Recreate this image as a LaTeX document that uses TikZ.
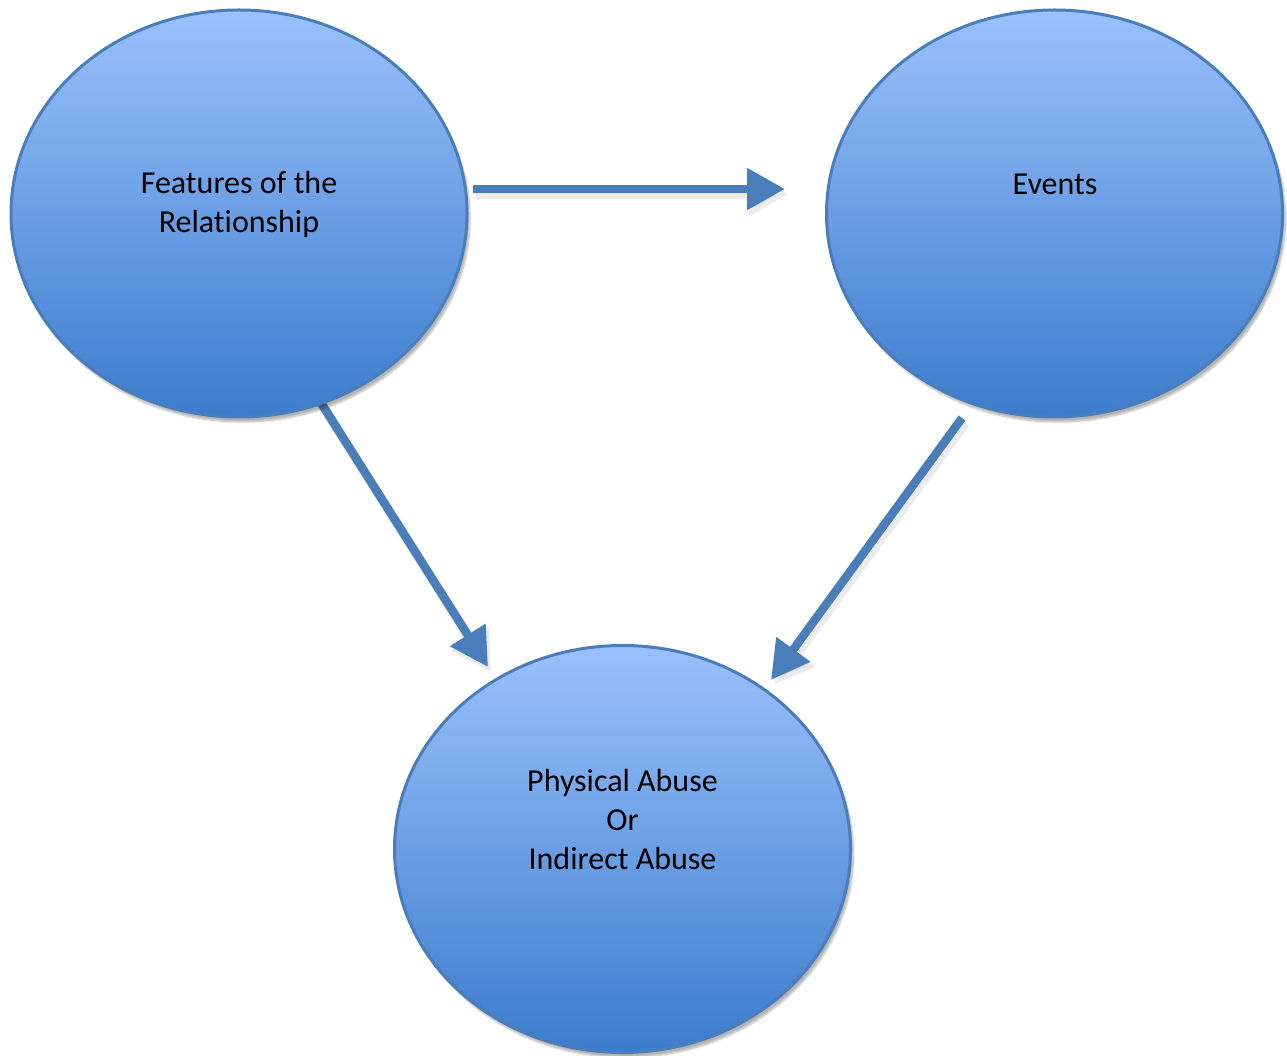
\documentclass[tikz,border=0pt]{standalone}
\usepackage{fontspec}
\setmainfont{Carlito}[Ligatures=NoCommon]
\usetikzlibrary{shapes.geometric,arrows.meta,shadows.blur}
\definecolor{topblue}{RGB}{153,193,252}
\definecolor{botblue}{RGB}{60,124,204}
\definecolor{edgeblue}{RGB}{74,126,187}
\definecolor{arrowblue}{RGB}{74,126,187}
\tikzset{
  bubble/.style={ellipse, draw=edgeblue, line width=3pt, top color=topblue, bottom color=botblue,
    minimum width=456pt, minimum height=407pt, inner sep=0pt,
    blur shadow={shadow xshift=3pt, shadow yshift=-5pt, shadow blur steps=8, shadow opacity=30}},
  label text/.style={font=\fontsize{32}{39}\selectfont, align=center, inner sep=0pt, text=black},
  flow/.style={draw=arrowblue, line width=8.5pt, -{Triangle[width=40pt,length=38pt]}},
  flowshadow/.style={draw=black!40, opacity=0.2, line width=10pt, -{Triangle[width=42pt,length=39pt]}}
}
\begin{document}
\begin{tikzpicture}[x=1pt,y=1pt]
\useasboundingbox (0,0) rectangle (1287,1055);
% arrow end points
\coordinate (h1) at (473,866);
\coordinate (h2) at (785,866);
\coordinate (l1) at (316,660);
\coordinate (l2) at (488,388);
\coordinate (r1) at (962,637);
\coordinate (r2) at (771,375);
% arrow shadows
\draw[flowshadow] ([shift={(3,-5)}]h1) -- ([shift={(3,-5)}]h2);
\draw[flowshadow] ([shift={(3,-5)}]l1) -- ([shift={(3,-5)}]l2);
\draw[flowshadow] ([shift={(3,-5)}]r1) -- ([shift={(3,-5)}]r2);
% arrows
\draw[flow] (h1) -- (h2);
\draw[flow] (l1) -- (l2);
\draw[flow] (r1) -- (r2);
% bubbles
\node[bubble] (L) at (239,841.5) {};
\node[bubble] (R) at (1054.5,841.5) {};
\node[bubble] (B) at (622.5,206) {};
% texts
\node[label text] (Lt) at (239,851) {Features of the\\Relationship};
\node[label text] (Rt) at (1055,870.5) {Events};
\node[label text] (Bt) at (622.5,235) {Physical Abuse\\Or\\Indirect Abuse};
\end{tikzpicture}
\end{document}
